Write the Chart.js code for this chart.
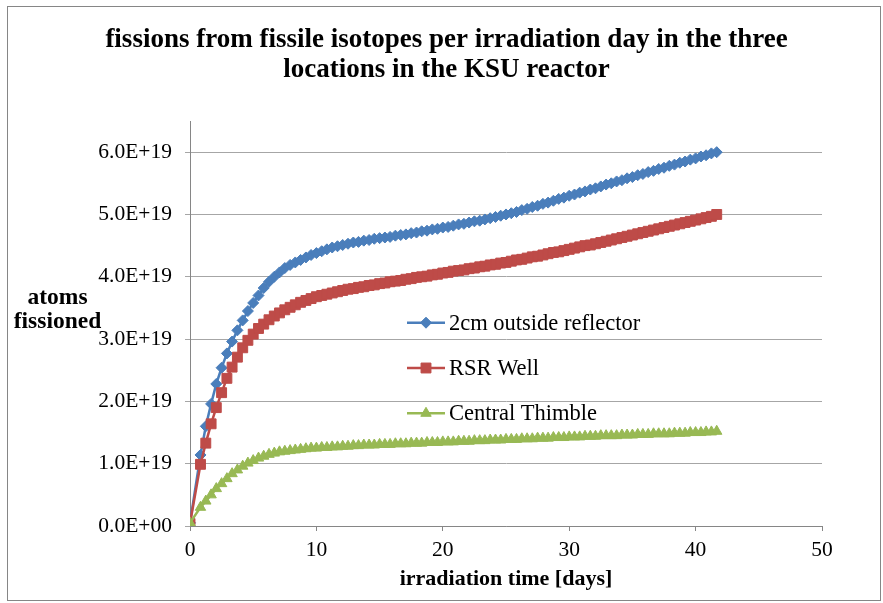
<!DOCTYPE html>
<html>
<head>
<meta charset="utf-8">
<script src="https://cdn.jsdelivr.net/npm/chart.js@4.4.1/dist/chart.umd.min.js"></script>
<style>
html,body{margin:0;padding:0;background:#fff;}
#wrap{position:relative;width:883px;height:603px;}
canvas{display:block;}
</style>
</head>
<body>
<div id="wrap"><canvas id="c" width="883" height="603"></canvas></div>
<script>
// irradiation time [days]
const days = [0, 0.83, 1.25, 1.67, 2.08, 2.5, 2.92, 3.33, 3.75, 4.17, 4.58, 5, 5.42, 5.83, 6.25, 6.67, 7.08, 7.5, 7.92, 8.33, 8.75, 9.17, 9.58, 10, 10.42, 10.83, 11.25, 11.67, 12.08, 12.5, 12.92, 13.33, 13.75, 14.17, 14.58, 15, 15.42, 15.83, 16.25, 16.67, 17.08, 17.5, 17.92, 18.33, 18.75, 19.17, 19.58, 20, 20.42, 20.83, 21.25, 21.67, 22.08, 22.5, 22.92, 23.33, 23.75, 24.17, 24.58, 25, 25.42, 25.83, 26.25, 26.67, 27.08, 27.5, 27.92, 28.33, 28.75, 29.17, 29.58, 30, 30.42, 30.83, 31.25, 31.67, 32.08, 32.5, 32.92, 33.33, 33.75, 34.17, 34.58, 35, 35.42, 35.83, 36.25, 36.67, 37.08, 37.5, 37.92, 38.33, 38.75, 39.17, 39.58, 40, 40.42, 40.83, 41.25, 41.67];

// atoms fissioned, in units of 1E+19
const outsideReflector = [0.05, 1.14, 1.6, 1.96, 2.28, 2.54, 2.77, 2.96, 3.14, 3.3, 3.45, 3.58, 3.7, 3.82, 3.92, 4.0, 4.07, 4.14, 4.19, 4.23, 4.27, 4.31, 4.35, 4.38, 4.41, 4.44, 4.47, 4.49, 4.51, 4.53, 4.55, 4.56, 4.58, 4.59, 4.61, 4.62, 4.63, 4.64, 4.66, 4.67, 4.68, 4.7, 4.71, 4.73, 4.74, 4.76, 4.77, 4.79, 4.8, 4.82, 4.84, 4.85, 4.87, 4.89, 4.9, 4.92, 4.94, 4.96, 4.98, 5.0, 5.02, 5.04, 5.07, 5.09, 5.12, 5.14, 5.17, 5.19, 5.22, 5.25, 5.27, 5.3, 5.32, 5.35, 5.37, 5.4, 5.42, 5.45, 5.48, 5.5, 5.53, 5.55, 5.58, 5.6, 5.63, 5.65, 5.68, 5.7, 5.73, 5.75, 5.78, 5.8, 5.83, 5.85, 5.88, 5.9, 5.93, 5.95, 5.98, 6.0];

const rsrWell = [0.04, 0.99, 1.33, 1.64, 1.9, 2.14, 2.37, 2.55, 2.71, 2.86, 2.98, 3.08, 3.17, 3.24, 3.31, 3.37, 3.42, 3.47, 3.51, 3.55, 3.59, 3.62, 3.65, 3.68, 3.7, 3.72, 3.74, 3.76, 3.78, 3.8, 3.81, 3.83, 3.84, 3.86, 3.87, 3.89, 3.9, 3.92, 3.93, 3.94, 3.96, 3.97, 3.99, 4.0, 4.01, 4.03, 4.04, 4.06, 4.07, 4.09, 4.1, 4.11, 4.13, 4.14, 4.16, 4.17, 4.19, 4.2, 4.22, 4.23, 4.25, 4.27, 4.28, 4.3, 4.32, 4.33, 4.35, 4.37, 4.39, 4.4, 4.42, 4.44, 4.46, 4.48, 4.5, 4.51, 4.53, 4.55, 4.57, 4.59, 4.61, 4.63, 4.65, 4.67, 4.69, 4.71, 4.73, 4.75, 4.77, 4.79, 4.81, 4.83, 4.85, 4.87, 4.89, 4.91, 4.93, 4.95, 4.97, 5.0];

const centralThimble = [0.05, 0.3, 0.4, 0.5, 0.6, 0.68, 0.76, 0.84, 0.9, 0.96, 1.01, 1.05, 1.09, 1.12, 1.15, 1.17, 1.19, 1.2, 1.21, 1.22, 1.23, 1.24, 1.25, 1.25, 1.26, 1.26, 1.27, 1.27, 1.28, 1.28, 1.29, 1.29, 1.3, 1.3, 1.3, 1.31, 1.31, 1.31, 1.32, 1.32, 1.32, 1.33, 1.33, 1.33, 1.34, 1.34, 1.34, 1.35, 1.35, 1.35, 1.36, 1.36, 1.36, 1.37, 1.37, 1.37, 1.38, 1.38, 1.38, 1.39, 1.39, 1.39, 1.4, 1.4, 1.4, 1.41, 1.41, 1.41, 1.42, 1.42, 1.42, 1.43, 1.43, 1.43, 1.44, 1.44, 1.44, 1.45, 1.45, 1.45, 1.45, 1.46, 1.46, 1.46, 1.47, 1.47, 1.47, 1.48, 1.48, 1.48, 1.48, 1.49, 1.49, 1.49, 1.5, 1.5, 1.5, 1.51, 1.51, 1.52];

const seriesNames = ['2cm outside reflector', 'RSR Well', 'Central Thimble'];
const xTickValues = [0, 10, 20, 30, 40, 50];
const yTickValues = [0, 1, 2, 3, 4, 5, 6]; // ×1E+19
const UNIT = 1e19;

const SERIF = '"Liberation Serif", "Times New Roman", serif';

function pts(vals) { return days.map((d, i) => ({ x: d, y: vals[i] * UNIT })); }

function fmtSci(v) {
  if (v === 0) return '0.0E+00';
  const e = Math.floor(Math.log10(v) + 1e-9);
  const m = v / Math.pow(10, e);
  return m.toFixed(1) + 'E+' + String(e).padStart(2, '0');
}

const frame = {
  id: 'frame',
  beforeDraw(chart) {
    const ctx = chart.ctx;
    ctx.save();
    ctx.fillStyle = '#fff';
    ctx.fillRect(0, 0, chart.width, chart.height);
    ctx.strokeStyle = '#868686';
    ctx.lineWidth = 1;
    ctx.strokeRect(7.5, 6.5, 873, 594);
    ctx.restore();
  }
};

const extras = {
  id: 'extras',
  afterDraw(chart) {
    const ctx = chart.ctx;
    ctx.save();
    // y axis title (horizontal, two lines)
    ctx.fillStyle = '#000';
    ctx.font = 'bold 23.5px ' + SERIF;
    ctx.textAlign = 'center';
    ctx.textBaseline = 'middle';
    ctx.fillText('atoms', 57.5, 298);
    ctx.fillText('fissioned', 57.5, 322);
    // legend inside plot area
    const ds = chart.data.datasets;
    for (let i = 0; i < ds.length; i++) {
      const y = 322.7 + i * 45.3;
      ctx.strokeStyle = ds[i].borderColor;
      ctx.lineWidth = ds[i].borderWidth;
      ctx.beginPath();
      ctx.moveTo(407, y);
      ctx.lineTo(445, y);
      ctx.stroke();
      ctx.fillStyle = ds[i].pointBackgroundColor;
      ctx.strokeStyle = ds[i].pointBorderColor;
      ctx.lineWidth = 1;
      Chart.helpers.drawPoint(ctx, {
        pointStyle: ds[i].pointStyle,
        radius: ds[i].pointRadius,
        rotation: 0,
        borderWidth: 1
      }, 426, y);
      ctx.fillStyle = '#000';
      ctx.font = '22.5px ' + SERIF;
      ctx.textAlign = 'left';
      ctx.textBaseline = 'middle';
      ctx.fillText(seriesNames[i], 449, y + 1);
    }
    ctx.restore();
  }
};

const colors = ['#4A7EBB', '#BE4B48', '#98B954'];
const styles = ['rectRot', 'rect', 'triangle'];
const radii = [5.5, 7, 6];
const valueSets = [outsideReflector, rsrWell, centralThimble];

const datasets = valueSets.map((v, i) => ({
  label: seriesNames[i],
  data: pts(v),
  showLine: true,
  borderColor: colors[i],
  backgroundColor: colors[i],
  borderWidth: 2.5,
  pointStyle: styles[i],
  pointRadius: radii[i],
  pointHoverRadius: radii[i],
  pointBackgroundColor: colors[i],
  pointBorderColor: colors[i],
  pointBorderWidth: 1,
  order: 3 - i
}));

new Chart(document.getElementById('c'), {
  type: 'scatter',
  data: { datasets },
  plugins: [frame, extras],
  options: {
    responsive: false,
    animation: false,
    devicePixelRatio: 1,
    layout: { padding: { top: 0, left: 10, right: 0, bottom: 8 } },
    plugins: {
      legend: { display: false },
      tooltip: { enabled: false },
      title: {
        display: true,
        text: ['fissions from fissile isotopes per irradiation day in the three', 'locations in the KSU reactor'],
        color: '#000',
        font: { family: SERIF, size: 27, weight: 'bold', lineHeight: 1.1 },
        padding: { top: 25, bottom: 36.6 }
      }
    },
    scales: {
      x: {
        type: 'linear',
        min: 0,
        max: 50,
        afterBuildTicks(axis) { axis.ticks = xTickValues.map(v => ({ value: v })); },
        afterFit(axis) { axis.height = 69; },
        ticks: { color: '#000', font: { family: SERIF, size: 21.5 }, padding: 6, maxRotation: 0 },
        grid: { drawOnChartArea: false, drawTicks: true, tickLength: 5, color: '#868686' },
        border: { color: '#868686', width: 1 },
        title: {
          display: true,
          text: 'irradiation time [days]',
          color: '#000',
          font: { family: SERIF, size: 22, weight: 'bold', lineHeight: 1.2 },
          padding: { top: 0, bottom: 2 }
        }
      },
      y: {
        type: 'linear',
        min: 0,
        max: 6.5 * UNIT,
        afterBuildTicks(axis) { axis.ticks = yTickValues.map(v => ({ value: v * UNIT })); },
        afterFit(axis) { axis.width = 180; },
        ticks: { color: '#000', font: { family: SERIF, size: 21.5 }, padding: 13, callback: v => fmtSci(v) },
        grid: { color: '#A6A6A6', lineWidth: 1, tickLength: 5 },
        border: { color: '#868686', width: 1 }
      },
      yRight: {
        type: 'linear',
        position: 'right',
        display: true,
        afterFit(axis) { axis.width = 61; },
        ticks: { display: false },
        grid: { display: false, drawOnChartArea: false, drawTicks: false },
        border: { display: false }
      }
    }
  }
});
</script>
</body>
</html>
